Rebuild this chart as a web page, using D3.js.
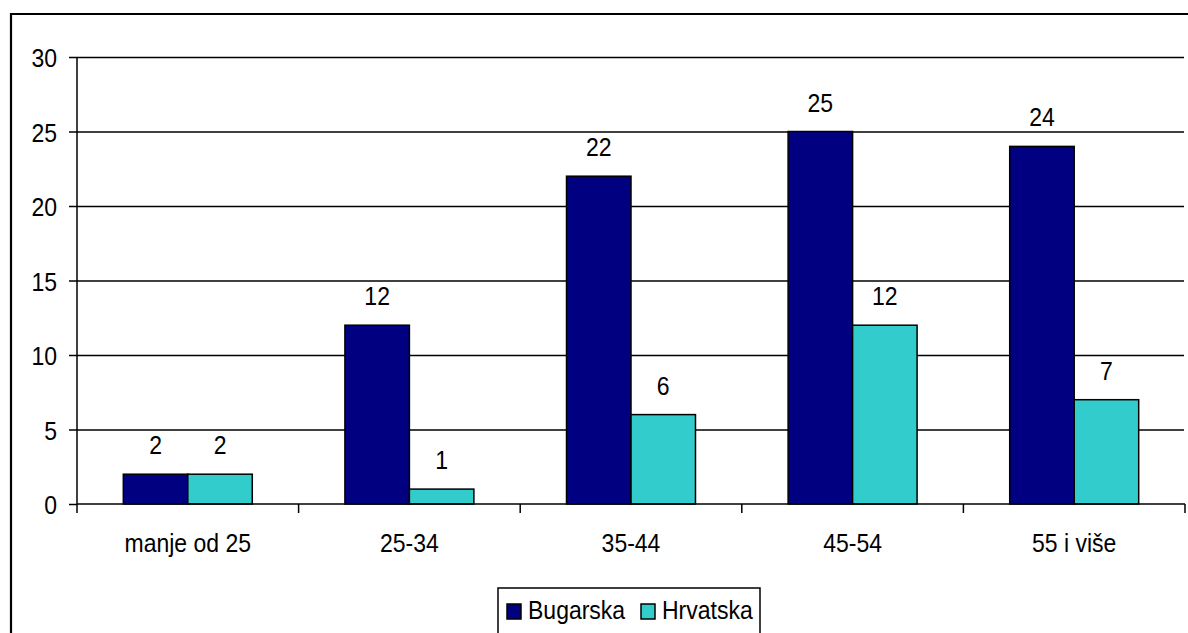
<!DOCTYPE html>
<meta charset="utf-8">
<style>
  body{ margin:0; background:#fff; }
  text{ font-family: "Liberation Sans", Arial, sans-serif; fill:#000; }
  .grid line{ stroke:#000; stroke-width:1.5px; }
  .grid path{ display:none; }
  .axis path, .axis line{ stroke:#000; stroke-width:1.5px; }
</style>
<body>
<script src="https://cdn.jsdelivr.net/npm/d3@7"></script>
<script>

  var categories = ["manje od 25", "25-34", "35-44", "45-54", "55 i više"];
  var series = ["Bugarska", "Hrvatska"];
  var bugarska = [2, 12, 22, 25, 24];
  var hrvatska = [2, 1, 6, 12, 7];
  var yTicks = [0, 5, 10, 15, 20, 25, 30];
  var color = {Bugarska: "#000080", Hrvatska: "#33CCCC"};

  var values = {Bugarska: bugarska, Hrvatska: hrvatska};

  var W = 1188, H = 633;
  var pLeft = 77, pRight = 1185, pTop = 57, pBottom = 504;
  var fs = 23, stretch = 1.14;

  // text glyphs in the original are a bit taller than wide
  function label(sel, x, y){
    return sel.attr("transform", function(d, i){
      var xx = typeof x === "function" ? x(d, i) : x;
      var yy = typeof y === "function" ? y(d, i) : y;
      return "translate(" + xx + "," + yy + ") scale(1," + stretch + ")";
    }).style("font-size", fs + "px");
  }

  var svg = d3.select("body").append("svg").attr("width", W).attr("height", H);

  // outer chart border (cut off on right and bottom)
  svg.append("path")
    .attr("d", "M11," + H + "V14H" + W)
    .attr("fill", "none").attr("stroke", "#000").attr("stroke-width", 2.2);

  var x0 = d3.scaleBand().domain(categories).range([pLeft, pRight]);
  var groupFrac = 0.582;
  var bw = x0.bandwidth();
  var x1 = d3.scaleBand().domain(series)
    .range([bw * (1 - groupFrac) / 2, bw * (1 + groupFrac) / 2]);
  var y = d3.scaleLinear().domain([0, 30]).range([pBottom, pTop]);

  // gridlines
  svg.append("g").attr("class", "grid")
    .attr("transform", "translate(" + pLeft + ",0)")
    .call(d3.axisLeft(y).tickValues(yTicks.slice(1)).tickSize(-(pRight - 1 - pLeft)).tickFormat(""));

  // y axis
  var ya = svg.append("g").attr("class", "axis")
    .attr("transform", "translate(" + pLeft + ",0)")
    .call(d3.axisLeft(y).tickValues(yTicks).tickSize(8).tickSizeOuter(0).tickFormat(""));
  ya.select(".domain").attr("d", "M0," + pTop + "V" + (pBottom + 9));
  label(ya.selectAll(".tick").append("text"), -20, 9.5)
    .attr("text-anchor", "end").text(d => d);

  // bars
  var data = [];
  categories.forEach(function(c, i){
    series.forEach(function(s){ data.push({cat: c, ser: s, v: values[s][i]}); });
  });

  var bars = svg.append("g");
  bars.selectAll("rect").data(data).enter().append("rect")
    .attr("x", d => x0(d.cat) + x1(d.ser))
    .attr("y", d => y(d.v))
    .attr("width", x1.bandwidth())
    .attr("height", d => y(0) - y(d.v))
    .attr("fill", d => color[d.ser])
    .attr("stroke", "#000").attr("stroke-width", 1.5);

  label(bars.selectAll("text").data(data).enter().append("text"),
      d => x0(d.cat) + x1(d.ser) + x1.bandwidth() / 2,
      d => y(d.v) - 20)
    .attr("text-anchor", "middle")
    .text(d => d.v);

  // x axis
  var xa = svg.append("g").attr("class", "axis")
    .attr("transform", "translate(0," + pBottom + ")");
  xa.append("line").attr("x1", pLeft).attr("x2", pRight).attr("y1", 0).attr("y2", 0);
  xa.selectAll(".tk").data(categories).enter().append("line")
    .attr("x1", d => x0(d) + bw).attr("x2", d => x0(d) + bw)
    .attr("y1", 0).attr("y2", 9);
  label(xa.selectAll("text").data(categories).enter().append("text"),
      d => x0(d) + bw / 2, 48)
    .attr("text-anchor", "middle")
    .text(d => d);

  // legend
  var lg = svg.append("g").attr("transform", "translate(498,588)");
  lg.append("rect").attr("x", 0).attr("y", 0).attr("width", 262).attr("height", 60)
    .attr("fill", "#fff").attr("stroke", "#000").attr("stroke-width", 1.5);
  var lx = [9, 143];
  series.forEach(function(s, i){
    lg.append("rect").attr("x", lx[i]).attr("y", 16).attr("width", 14).attr("height", 15)
      .attr("fill", color[s]).attr("stroke", "#000").attr("stroke-width", 1.5);
    label(lg.append("text"), lx[i] + 21, 31).text(s);
  });
</script>
</body>
</html>
